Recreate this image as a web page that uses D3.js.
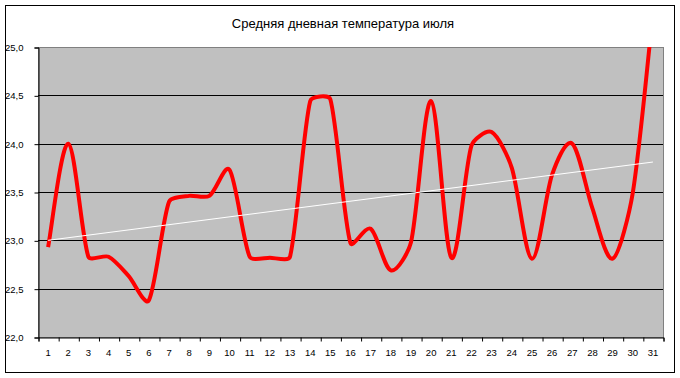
<!DOCTYPE html>
<html>
<head>
<meta charset="utf-8">
<script src="https://cdn.jsdelivr.net/npm/d3@7"></script>
<style>
  body { margin: 0; background: #fff; }
  text { font-family: Arial, "Liberation Sans", sans-serif; }
</style>
</head>
<body>
<script>
// Средняя дневная температура июля
const title = "Средняя дневная температура июля";

const days = d3.range(1, 32);
const temps = [22.93, 24.0, 22.83, 22.83, 22.63, 22.38, 23.40, 23.46, 23.46, 23.73,
               22.83, 22.82, 22.83, 24.44, 24.46, 22.97, 23.12, 22.69, 22.98, 24.44,
               22.82, 23.98, 24.12, 23.75, 22.81, 23.68, 24.0, 23.33, 22.81, 23.49,
               25.35];
const yTicks = [22.0, 22.5, 23.0, 23.5, 24.0, 24.5, 25.0];
// trend line (at day 1 and day 31)
const trendDays = [1, 31];
const trendVals = [23.0, 23.81];

const W = 680, H = 378;
const plot = {left: 38, right: 663, top: 47, bottom: 337};

// smoothed line: bezier with control points at 1/6 of the neighbour chord,
// shortened on short segments so flat parts stay flat
function curveSmooth(context) {
    let pts = [];
    return {
        areaStart() {}, areaEnd() {},
        lineStart() { pts = []; },
        point(px, py) { pts.push([px, py]); },
        lineEnd() {
            const n = pts.length;
            if (!n) return;
            context.moveTo(pts[0][0], pts[0][1]);
            const dist = (a, b) => Math.hypot(b[0] - a[0], b[1] - a[1]);
            for (let i = 0; i < n - 1; i++) {
                const p0 = pts[Math.max(i - 1, 0)], p1 = pts[i], p2 = pts[i + 1],
                      p3 = pts[Math.min(i + 2, n - 1)];
                const d12 = dist(p1, p2), d02 = dist(p0, p2), d13 = dist(p1, p3);
                const f1 = d02 > 0 ? Math.min(1 / 6, d12 / (4 * d02)) : 0;
                const f2 = d13 > 0 ? Math.min(1 / 6, d12 / (4 * d13)) : 0;
                context.bezierCurveTo(
                    p1[0] + (p2[0] - p0[0]) * f1, p1[1] + (p2[1] - p0[1]) * f1,
                    p2[0] - (p3[0] - p1[0]) * f2, p2[1] - (p3[1] - p1[1]) * f2,
                    p2[0], p2[1]);
            }
        }
    };
}

const svg = d3.select("body").append("svg")
    .attr("width", W)
    .attr("height", H);

// outer frame
svg.append("rect")
    .attr("x", 5.5).attr("y", 5.5)
    .attr("width", 669).attr("height", 367)
    .attr("fill", "#fff")
    .attr("stroke", "#000");

svg.append("text")
    .attr("x", 343).attr("y", 28)
    .attr("text-anchor", "middle")
    .attr("font-size", 13)
    .text(title);

let x = d3.scaleLinear().domain([0.5, 31.5]).range([plot.left, plot.right]);
let y = d3.scaleLinear().domain([22, 25]).range([plot.bottom, plot.top]);

// plot area
svg.append("rect")
    .attr("x", plot.left + 0.5).attr("y", plot.top + 0.5)
    .attr("width", plot.right - plot.left).attr("height", plot.bottom - plot.top)
    .attr("fill", "#c0c0c0")
    .attr("stroke", "#808080");

// gridlines
svg.append("g").selectAll("line")
    .data(yTicks.filter(d => d > 22 && d < 25))
    .enter().append("line")
    .attr("x1", plot.left).attr("x2", plot.right)
    .attr("y1", d => Math.round(y(d)) + 0.5)
    .attr("y2", d => Math.round(y(d)) + 0.5)
    .attr("stroke", "#000");

// y axis
let yAxis = svg.append("g")
    .attr("transform", "translate(" + (plot.left + 0.5) + ",0.5)")
    .call(d3.axisLeft(y).tickValues(yTicks).tickSize(4).tickPadding(11)
        .tickFormat(d => d3.format(".1f")(d).replace(".", ",")));
yAxis.select(".domain").attr("stroke", "#000");
yAxis.selectAll("text").attr("font-size", 9.5).attr("fill", "#000")
    .attr("font-family", "Arial, 'Liberation Sans', sans-serif");

// x axis: ticks between categories
let xAxis = svg.append("g")
    .attr("transform", "translate(0.5," + (plot.bottom + 0.5) + ")")
    .call(d3.axisBottom(x).tickValues(d3.range(0.5, 32, 1)).tickSize(4).tickFormat(""));
xAxis.select(".domain").attr("stroke", "#000");

svg.append("g").selectAll("text")
    .data(days)
    .enter().append("text")
    .attr("x", d => x(d))
    .attr("y", 356)
    .attr("text-anchor", "middle")
    .attr("font-size", 9.5)
    .text(d => d);

// clip to plot
svg.append("clipPath").attr("id", "clip")
    .append("rect")
    .attr("x", plot.left).attr("y", plot.top)
    .attr("width", plot.right - plot.left).attr("height", plot.bottom - plot.top);

let line = d3.line()
    .x((d, i) => x(days[i]))
    .y(d => y(d))
    .curve(curveSmooth);

svg.append("path")
    .datum(temps)
    .attr("clip-path", "url(#clip)")
    .attr("d", line)
    .attr("fill", "none")
    .attr("stroke", "#ff0000")
    .attr("stroke-width", 4)
    .attr("stroke-linejoin", "round");

// trend
svg.append("line")
    .attr("x1", x(trendDays[0])).attr("y1", y(trendVals[0]))
    .attr("x2", x(trendDays[1])).attr("y2", y(trendVals[1]))
    .attr("stroke", "#fff")
    .attr("stroke-width", 1);
</script>
</body>
</html>
